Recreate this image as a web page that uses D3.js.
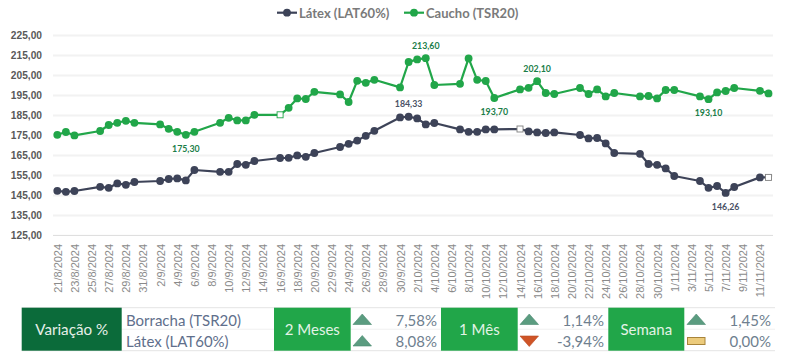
<!DOCTYPE html>
<html lang="pt">
<head>
<meta charset="utf-8">
<script src="https://cdn.jsdelivr.net/npm/d3@7"></script>
<style>
html,body{margin:0;padding:0;background:#fff;overflow:hidden}
svg{display:block;font-family:Lato,"Open Sans",sans-serif}
.domain{display:none}
</style>
</head>
<body>
<svg id="chart" width="800" height="362"></svg>
<script>
const dates = ["2024-08-21","2024-08-22","2024-08-23","2024-08-26","2024-08-27","2024-08-28","2024-08-29","2024-08-30",
"2024-09-02","2024-09-03","2024-09-04","2024-09-05","2024-09-06","2024-09-09","2024-09-10","2024-09-11","2024-09-12","2024-09-13",
"2024-09-16","2024-09-17","2024-09-18","2024-09-19","2024-09-20","2024-09-23","2024-09-24","2024-09-25","2024-09-26","2024-09-27",
"2024-09-30","2024-10-01","2024-10-02","2024-10-03","2024-10-04","2024-10-07","2024-10-08","2024-10-09","2024-10-10","2024-10-11",
"2024-10-14","2024-10-15","2024-10-16","2024-10-17","2024-10-18","2024-10-21","2024-10-22","2024-10-23","2024-10-24","2024-10-25",
"2024-10-28","2024-10-29","2024-10-30","2024-10-31","2024-11-01","2024-11-04","2024-11-05","2024-11-06","2024-11-07","2024-11-08",
"2024-11-11","2024-11-12"];
const caucho = [175.3,176.7,175.0,177.2,180.2,181.3,182.3,181.3,
180.5,178.3,176.8,175.3,176.8,181.3,183.8,182.5,182.5,185.3,
185.3,188.8,193.5,193.2,196.8,195.5,191.7,202.3,201.3,202.8,
199.0,211.7,213.0,213.6,200.2,200.8,213.5,202.8,202.2,193.7,
198.0,198.8,202.1,196.2,195.7,198.7,195.7,198.0,194.5,196.2,
194.5,194.7,193.5,197.7,197.7,194.5,193.1,196.5,197.2,198.7,
197.3,196.0];
const latex = [147.3,146.8,147.2,149.3,148.8,151.0,150.3,151.7,
152.2,153.2,153.5,152.5,157.7,156.8,156.8,160.7,160.3,162.2,
163.7,163.8,165.0,164.3,166.2,169.2,170.8,172.4,174.8,177.3,
184.0,184.33,183.5,180.5,181.2,178.0,176.8,176.8,178.0,178.0,
178.2,177.0,176.5,176.2,176.5,175.2,173.5,173.7,171.0,166.2,
165.8,160.7,160.3,158.5,154.7,152.2,148.8,149.7,146.26,149.2,
154.0,154.0];
const yTicks = [125,135,145,155,165,175,185,195,205,215,225];
const seriesNames = ["Látex (LAT60%)","Caucho (TSR20)"];
const cauchoSquares = ["2024-09-16"];
const latexSquares = ["2024-10-14","2024-11-12"];
const cauchoLabels = ["2024-09-05","2024-10-03","2024-10-11","2024-10-16","2024-11-05"];
const cauchoLabelBelow = [true,false,true,false,true];
const latexLabels = ["2024-10-01","2024-11-07"];
const latexLabelBelow = [false,true];
const tableHead = "Variação %";
const rowNames = ["Borracha (TSR20)","Látex (LAT60%)"];
const periods = ["2 Meses","1 Mês","Semana"];
const caucho_var = [7.58,1.14,1.45];
const latex_var = [8.08,-3.94,0.00];

const GREEN="#21a649", DARK="#3d4358";
const parse=d3.utcParse("%Y-%m-%d");
const ptBR=d3.formatLocale({decimal:",",thousands:".",grouping:[3],currency:["R$",""],minus:"-"});
const f2=ptBR.format(".2f");
const svg=d3.select("#chart");
const x=d3.scaleUtc().domain([parse("2024-08-21"),parse("2024-11-12")]).range([57.3,768.5]);
const y=d3.scaleLinear().domain([125,225]).range([235.4,35.4]);

// grid + y axis
const yAxis=svg.append("g").attr("transform","translate(53,0)")
 .call(d3.axisLeft(y).tickValues(yTicks).tickFormat(f2).tickSize(0).tickPadding(11));
yAxis.selectAll("text").attr("font-size",10.2).attr("fill","#595959").attr("font-weight",700);
svg.append("g").selectAll("line").data(yTicks).join("line")
 .attr("x1",53).attr("x2",773).attr("y1",y).attr("y2",y)
 .attr("stroke",d=>d===125?"#dcdcdc":"#f2f2f2").attr("stroke-width",d=>d===125?1:2);

// x axis
const xTicks=d3.utcDay.range(parse("2024-08-21"),parse("2024-11-12"),1).filter((d,i)=>i%2===0);
const xAxis=svg.append("g").attr("transform","translate(0,235.4)")
 .call(d3.axisBottom(x).tickValues(xTicks).tickFormat(d3.utcFormat("%-d/%-m/%Y")).tickSize(0));
xAxis.selectAll("text").attr("font-size",11).attr("fill","#8a8a8a")
 .attr("text-anchor","end").attr("dy",0)
 .attr("transform",d=>`translate(0,8.5) rotate(-90)`).attr("x",0).attr("y",0)
 .attr("dominant-baseline","central");

function drawSeries(vals,color,squares,labels,below,labelColor){
 const pts=dates.map((d,i)=>({d:parse(d),k:d,v:vals[i]}));
 svg.append("path").datum(pts).attr("fill","none").attr("stroke",color).attr("stroke-width",2.2)
  .attr("stroke-linejoin","round")
  .attr("d",d3.line().x(p=>x(p.d)).y(p=>y(p.v)));
 svg.append("g").selectAll("circle").data(pts.filter(p=>!squares.includes(p.k))).join("circle")
  .attr("cx",p=>x(p.d)).attr("cy",p=>y(p.v)).attr("r",3.9).attr("fill",color);
 svg.append("g").selectAll("rect").data(pts.filter(p=>squares.includes(p.k))).join("rect")
  .attr("x",p=>x(p.d)-3).attr("y",p=>y(p.v)-3).attr("width",6).attr("height",6)
  .attr("fill","#fff").attr("stroke",color===GREEN?GREEN:"#7f7f7f").attr("stroke-width",.9);
 svg.append("g").selectAll("text").data(pts.filter(p=>labels.includes(p.k))).join("text")
  .attr("x",p=>x(p.d)).attr("y",p=>y(p.v)+(below[labels.indexOf(p.k)]?13.5:-13))
  .attr("text-anchor","middle").attr("dominant-baseline","central")
  .attr("font-size",8.8).attr("font-weight",700).attr("fill",labelColor).text(p=>f2(p.v));
}
drawSeries(latex,DARK,latexSquares,latexLabels,latexLabelBelow,"#4a5266");
drawSeries(caucho,GREEN,cauchoSquares,cauchoLabels,cauchoLabelBelow,"#1a7d48");

// legend
const legendX=[[277,297,299],[404,424,426]];
seriesNames.forEach((n,i)=>{
 const c=i?GREEN:DARK, L=legendX[i];
 svg.append("line").attr("x1",L[0]).attr("x2",L[1]).attr("y1",12.7).attr("y2",12.7).attr("stroke",c).attr("stroke-width",2.2);
 svg.append("circle").attr("cx",(L[0]+L[1])/2).attr("cy",12.7).attr("r",3.9).attr("fill",c);
 svg.append("text").attr("x",L[2]).attr("y",12.7).attr("dominant-baseline","central")
  .attr("font-size",13).attr("font-weight",700).attr("fill","#7a7a7a").text(n);
});

// table
const T={top:307.7,mid:329.2,bot:350.7,left:21.7,right:775};
const tg=svg.append("g");
[T.top,T.mid,T.bot].forEach((v,i)=>tg.append("line").attr("x1",i===1?121.7:T.left).attr("x2",T.right).attr("y1",v).attr("y2",v)
 .attr("stroke",i===1?"#f0f0f0":"#e4e4e4").attr("stroke-width",1));
tg.append("rect").attr("x",T.left).attr("y",T.top).attr("width",100).attr("height",T.bot-T.top).attr("fill","#0b6b3a");
tg.append("text").attr("x",71.7).attr("y",(T.top+T.bot)/2).attr("text-anchor","middle").attr("dominant-baseline","central")
 .attr("font-size",15.2).attr("fill","#e6efe8").text(tableHead);
rowNames.forEach((n,i)=>tg.append("text").attr("x",126).attr("y",i?341:319.5).attr("dominant-baseline","central")
 .attr("font-size",15).attr("fill","#5f6f8c").text(n));
const cols=[{cx:274,cw:76.7,ix:353,vr:437},{cx:441,cw:76.7,ix:520,vr:604},{cx:608.3,cw:76,ix:687,vr:771}];
periods.forEach((p,i)=>{
 const C=cols[i];
 tg.append("rect").attr("x",C.cx).attr("y",T.top).attr("width",C.cw).attr("height",T.bot-T.top).attr("fill",GREEN);
 tg.append("text").attr("x",C.cx+C.cw/2).attr("y",(T.top+T.bot)/2).attr("text-anchor","middle").attr("dominant-baseline","central")
  .attr("font-size",15).attr("fill","#e3f3e6").text(p);
 [caucho_var[i],latex_var[i]].forEach((v,r)=>{
  const cy=r?341:319.5, ix=C.ix, w=18.5;
  if(v>0) tg.append("path").attr("d",d3.line()([[ix,cy+5],[ix+w/2,cy-5.5],[ix+w,cy+5]])+"Z").attr("fill","#5b9c80").attr("stroke","#4c8a70").attr("stroke-width",.6);
  else if(v<0) tg.append("path").attr("d",d3.line()([[ix,cy-5],[ix+w/2,cy+5.5],[ix+w,cy-5]])+"Z").attr("fill","#cf5427").attr("stroke","#b84a22").attr("stroke-width",.6);
  else tg.append("rect").attr("x",ix+.5).attr("y",cy-3.5).attr("width",w-1).attr("height",7).attr("fill","#eccb7c").attr("stroke","#a8843a").attr("stroke-width",1);
  tg.append("text").attr("x",C.vr).attr("y",cy).attr("text-anchor","end").attr("dominant-baseline","central")
   .attr("font-size",15).attr("fill","#6f7f8f").text(f2(v)+"%");
 });
});
</script>
</body>
</html>
